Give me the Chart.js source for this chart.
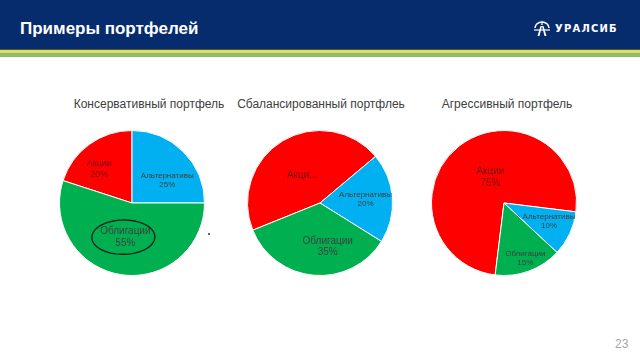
<!DOCTYPE html>
<html>
<head>
<meta charset="utf-8">
<script src="https://cdn.jsdelivr.net/npm/chart.js@4"></script>
<style>
  body { margin: 0; width: 640px; height: 360px; background: #fff; position: relative; overflow: hidden; font-family: "Liberation Sans", sans-serif; }
  #header { position: absolute; left: 0; top: 0; width: 640px; height: 49px; background: #072c6d; }
  #header h1 { position: absolute; left: 20px; top: 19px; margin: 0; font: bold 17px "Liberation Sans", sans-serif; color: #fff; line-height: 20px; }
  #stripe1 { position: absolute; left: 0; top: 49px; width: 640px; height: 1px; background: #3c5a50; }
  #stripe2 { position: absolute; left: 0; top: 50px; width: 640px; height: 3px; background: #e3dd58; }
  #stripe3 { position: absolute; left: 0; top: 53px; width: 640px; height: 4px; background: #8fbc6c; }
  #logo { position: absolute; left: 533px; top: 20px; }
  #logo span { position: absolute; left: 22px; top: 3px; font: bold 10px "DejaVu Sans", sans-serif; color: #fff; letter-spacing: 1.2px; white-space: nowrap; }
  .ptitle { position: absolute; top: 97px; width: 200px; text-align: center; font-size: 12px; color: #404040; white-space: nowrap; }
  .pie { position: absolute; top: 130px; width: 146px; height: 146px; }
  #dot { position: absolute; left: 208px; top: 233px; width: 2px; height: 2px; background: #333; border-radius: 1px; }
  #page { position: absolute; left: 615px; top: 337px; font: 12px "Liberation Sans", sans-serif; color: #a6a6a6; }
</style>
</head>
<body>
<div id="header"><h1>Примеры портфелей</h1>
  <div id="logo">
    <svg width="18" height="16" viewBox="0 0 18 16">
      <path d="M9 0 L9.8 5 L8.2 5 Z" fill="#fff"/>
      <path d="M2 8 A7 6 0 0 1 16 8" stroke="#fff" stroke-width="1.6" fill="none"/>
      <path d="M4.5 16 L7.5 6 L9 6 L6.5 16 Z M13.5 16 L10.5 6 L9 6 L11.5 16 Z" fill="#fff"/>
      <path d="M1 10 L17 10" stroke="#fff" stroke-width="1.2"/>
    </svg>
    <span>УРАЛСИБ</span>
  </div>
</div>
<div id="stripe1"></div><div id="stripe2"></div><div id="stripe3"></div>

<div class="ptitle" style="left:49px">Консервативный портфель</div>
<div class="ptitle" style="left:221px">Сбалансированный портфлеь</div>
<div class="ptitle" style="left:407px">Агрессивный портфель</div>

<div class="pie" style="left:59px"><canvas id="pie1"></canvas></div>
<div class="pie" style="left:247px"><canvas id="pie2"></canvas></div>
<div class="pie" style="left:431px"><canvas id="pie3"></canvas></div>
<div id="dot"></div>
<div id="page">23</div>

<script>
const categories = ["Акции", "Альтернативы", "Облигации"];
const conservativeValues = [20, 25, 55];
const balancedValues = [45, 20, 35];
const aggressiveValues = [75, 10, 15];
const sliceColors = ["#ff0000", "#00b0f0", "#00b050"];

// label placement: [radius factor, angle offset in degrees], font sizes
const pies = [
  { id: "pie1", values: conservativeValues, rotation: -72,
    place: [[0.65, -8], [0.58, 12], [0.48, 2]], sizes: [9, 8, 10], circle: 2 },
  { id: "pie2", values: balancedValues, rotation: -112,
    place: [[0.45, -2], [0.63, -1], [0.61, -15]], sizes: [10, 8, 10], short: { 0: "Акци..." } },
  { id: "pie3", values: aggressiveValues, rotation: -173,
    place: [[0.4, 10], [0.67, -3], [0.82, -1]], sizes: [10, 8, 8] }
];

const sliceLabels = {
  id: "sliceLabels",
  afterDatasetsDraw(chart, args, opts) {
    const ctx = chart.ctx;
    const meta = chart.getDatasetMeta(0);
    const values = chart.data.datasets[0].data;
    meta.data.forEach((arc, i) => {
      const p = arc.getProps(["x", "y", "startAngle", "endAngle", "outerRadius"], true);
      const mid = (p.startAngle + p.endAngle) / 2 + opts.place[i][1] * Math.PI / 180;
      const r = p.outerRadius * opts.place[i][0];
      const x = p.x + Math.cos(mid) * r;
      const y = p.y + Math.sin(mid) * r;
      const size = opts.sizes[i];
      const lines = opts.short && opts.short[i] ? [opts.short[i]] : [chart.data.labels[i], values[i] + "%"];
      ctx.save();
      ctx.font = size + "px 'Liberation Sans', sans-serif";
      ctx.fillStyle = i === 0 ? "#7a1010" : "#404040";
      ctx.textAlign = "center";
      ctx.textBaseline = "middle";
      const lh = size * 1.15;
      lines.forEach((t, k) => {
        ctx.fillText(t, x, y + (k - (lines.length - 1) / 2) * lh);
      });
      if (opts.circle === i) {
        // hand-drawn marker circle around the label
        ctx.strokeStyle = "#17261c";
        ctx.lineWidth = 1.4;
        ctx.beginPath();
        for (let a = 0; a <= 370; a += 5) {
          const t = (a + 130) * Math.PI / 180;
          const k = 1 + 0.05 * Math.sin(a * Math.PI / 90);
          const px = x - 2 + Math.cos(t) * 30 * k;
          const py = y + Math.sin(t) * 18 * k;
          if (a === 0) ctx.moveTo(px, py); else ctx.lineTo(px, py);
        }
        ctx.stroke();
      }
      ctx.restore();
    });
  }
};

pies.forEach(cfg => {
  new Chart(document.getElementById(cfg.id), {
    type: "pie",
    data: {
      labels: categories,
      datasets: [{
        data: cfg.values,
        backgroundColor: sliceColors,
        borderColor: "#ffffff",
        borderWidth: 1
      }]
    },
    options: {
      responsive: true,
      maintainAspectRatio: false,
      animation: false,
      rotation: cfg.rotation,
      layout: { padding: 0 },
      plugins: {
        legend: { display: false },
        tooltip: { enabled: false },
        sliceLabels: { place: cfg.place, sizes: cfg.sizes, short: cfg.short, circle: cfg.circle }
      }
    },
    plugins: [sliceLabels]
  });
});
</script>
</body>
</html>
